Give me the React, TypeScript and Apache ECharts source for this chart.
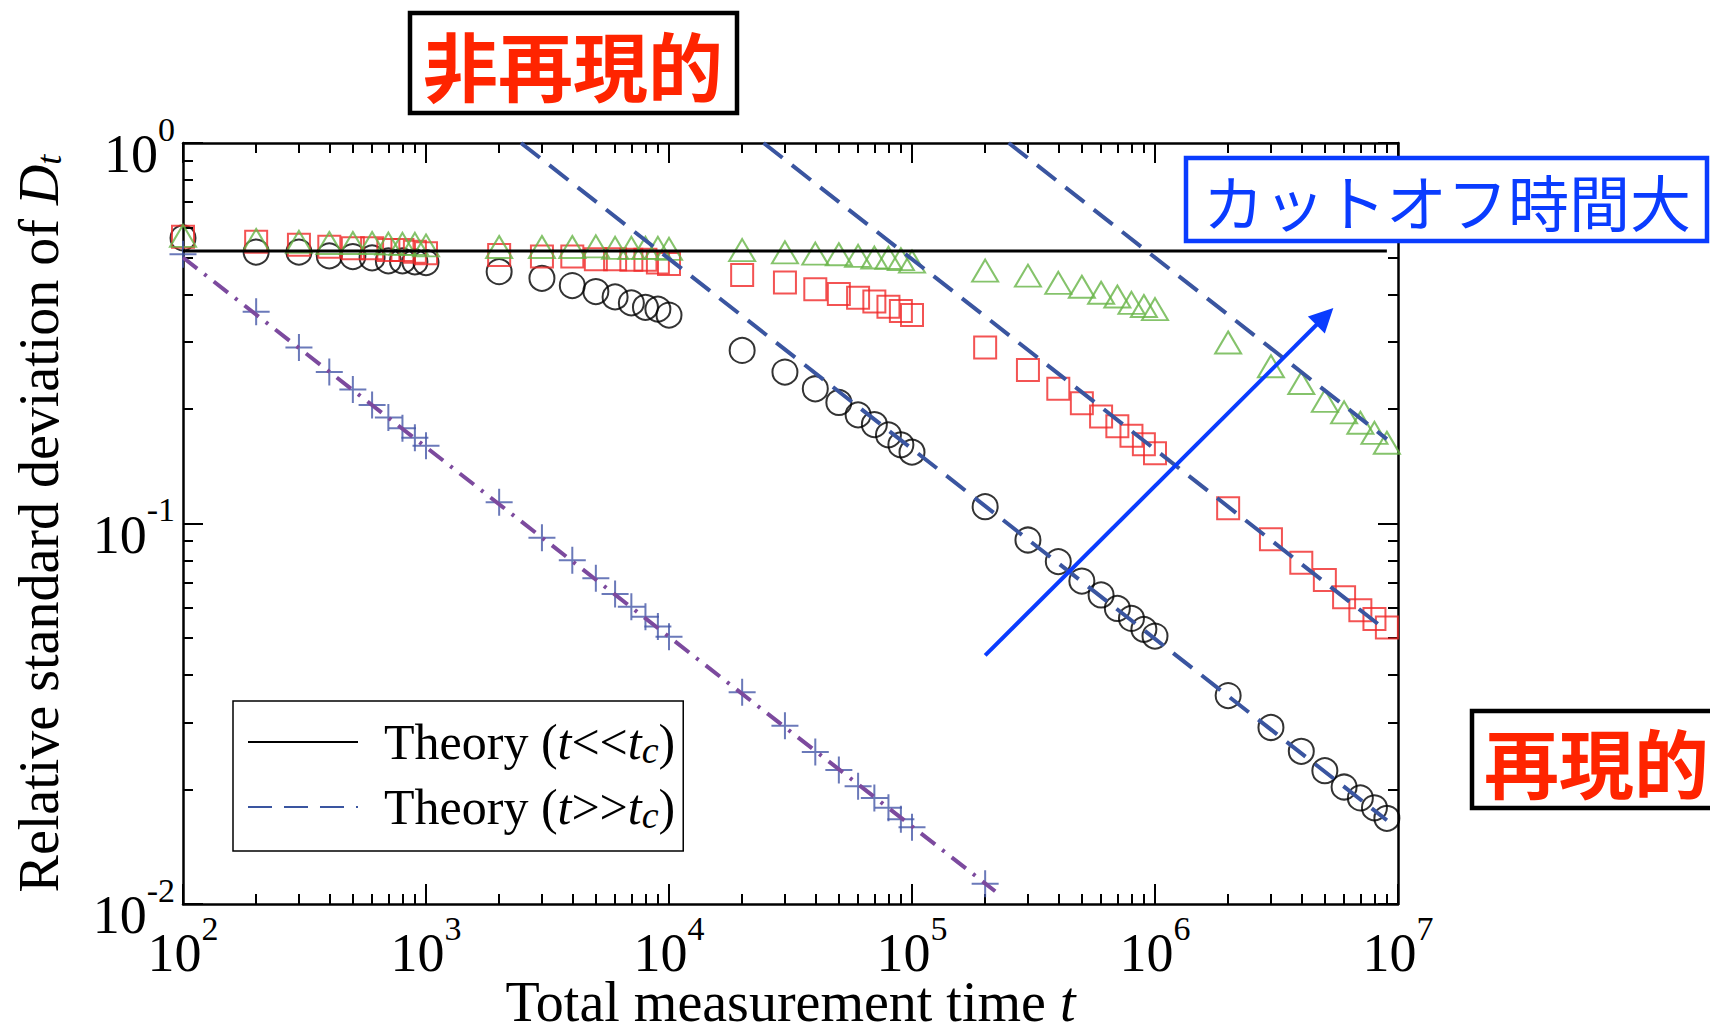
import React, { useEffect, useRef } from "react";
import * as echarts from "echarts";

// ---------- data ----------
const TIMES = [
  100, 200, 300, 400, 500, 600, 700, 800, 900,
  1e3, 2e3, 3e3, 4e3, 5e3, 6e3, 7e3, 8e3, 9e3,
  1e4, 2e4, 3e4, 4e4, 5e4, 6e4, 7e4, 8e4, 9e4,
  1e5, 2e5, 3e5, 4e5, 5e5, 6e5, 7e5, 8e5, 9e5,
  1e6, 2e6, 3e6, 4e6, 5e6, 6e6, 7e6, 8e6, 9e6,
];

const circleD = [
  0.563, 0.517, 0.517, 0.505, 0.503, 0.499, 0.49, 0.49, 0.487,
  0.485, 0.459, 0.441, 0.422, 0.407, 0.394, 0.38, 0.37, 0.366,
  0.353, 0.285, 0.25, 0.226, 0.208, 0.193, 0.182, 0.171, 0.161,
  0.154, 0.1107, 0.0905, 0.0794, 0.0706, 0.0649, 0.0598, 0.0563, 0.0527,
  0.0506, 0.0353, 0.0291, 0.0252, 0.0224, 0.0203, 0.019, 0.0179, 0.0168,
];

const squareD = [
  0.567, 0.55, 0.54, 0.534, 0.529, 0.529, 0.523, 0.523, 0.518,
  0.513, 0.508, 0.503, 0.503, 0.495, 0.495, 0.493, 0.493, 0.485,
  0.481, 0.45, 0.43, 0.413, 0.401, 0.392, 0.383, 0.371, 0.362,
  0.353, 0.29, 0.253, 0.226, 0.207, 0.191, 0.18, 0.17, 0.1615,
  0.153, 0.1096, 0.0909, 0.0789, 0.071, 0.064, 0.0592, 0.0561, 0.0533,
];

const triangleD = [
  0.57, 0.556, 0.55, 0.546, 0.546, 0.546, 0.544, 0.543, 0.543,
  0.538, 0.533, 0.533, 0.533, 0.535, 0.53, 0.53, 0.53, 0.53,
  0.527, 0.523, 0.516, 0.512, 0.51, 0.505, 0.5, 0.499, 0.495,
  0.488, 0.462, 0.448, 0.429, 0.419, 0.404, 0.395, 0.38, 0.373,
  0.366, 0.299, 0.259, 0.234, 0.21, 0.196, 0.184, 0.173, 0.163,
];

const PLUS_TIMES = [
  100, 200, 300, 400, 500, 600, 700, 800, 900,
  1e3, 2e3, 3e3, 4e3, 5e3, 6e3, 7e3, 8e3, 9e3,
  1e4, 2e4, 3e4, 4e4, 5e4, 6e4, 7e4, 8e4, 9e4,
  1e5, 2e5,
];
const plusD = [
  0.51, 0.36, 0.29, 0.25, 0.225, 0.205, 0.19, 0.178, 0.168,
  0.16, 0.1137, 0.0918, 0.08, 0.0718, 0.0653, 0.0604, 0.0569, 0.0536,
  0.0504, 0.036, 0.0294, 0.0251, 0.0225, 0.0204, 0.019, 0.0179, 0.0167,
  0.0159, 0.0113,
];

// theory lines (end points)
const shortT = [100, 9e6];
const shortD = [0.52, 0.52];
const long1T = [2460, 9e6];
const long1D = [1, 0.0166];
const long2T = [24500, 9e6];
const long2D = [1, 0.0522];
const long3T = [250000, 9e6];
const long3D = [1, 0.1667];
const dashDotT = [100, 2.2e5];
const dashDotD = [0.5, 0.0108];
const arrowT = [2e5, 5e6];
const arrowD = [0.045, 0.35];

// axes
const X_MAJOR = [1e2, 1e3, 1e4, 1e5, 1e6, 1e7];
const Y_MAJOR = [0.01, 0.1, 1];
const X_MINOR: number[] = [];
for (let k = 2; k <= 6; k++) for (let m = 2; m <= 9; m++) X_MINOR.push(+(m * Math.pow(10, k)).toPrecision(3));
const Y_MINOR: number[] = [];
for (let k = -2; k <= -1; k++) for (let m = 2; m <= 9; m++) Y_MINOR.push(+(m * Math.pow(10, k)).toPrecision(3));

const NAME_SHORT = "Theory (t<<tc)";
const NAME_LONG = "Theory (t>>tc)";

const zip = (ts: number[], ds: number[]) => ts.map((t, i) => [t, ds[i]]);

const serif = "'Liberation Serif', 'Times New Roman', serif";
const cjk = "'Noto Sans CJK JP', 'Noto Sans CJK SC', sans-serif";

export default function App() {
  const ref = useRef<HTMLDivElement>(null);

  useEffect(() => {
    document.body.style.margin = "0";
    document.body.style.overflow = "hidden";
    if (!ref.current) return;
    const chart = echarts.init(ref.current, undefined, { renderer: "svg" });

    const grid = { left: 183, top: 143, width: 1215, height: 761, containLabel: false, outerBoundsMode: "none" };
    const axisLine = { show: true, lineStyle: { color: "#000", width: 2.5 } };
    const majorTick = { show: true, inside: true, length: 20, lineStyle: { color: "#000", width: 2 } };
    const labelRich = {
      b: { fontFamily: serif, fontSize: 54, lineHeight: 54, color: "#000", verticalAlign: "middle" },
      sup: { fontFamily: serif, fontSize: 34, lineHeight: 34, color: "#000", padding: [0, 0, 50, 0], verticalAlign: "middle" },
    };
    const expLabel = (v: number) => `{b|10}{sup|${Math.round(Math.log10(v))}}`;
    const nameRich = {
      n: { fontFamily: serif, fontSize: 56, lineHeight: 56, color: "#000", verticalAlign: "middle" },
      i: { fontFamily: serif, fontSize: 56, lineHeight: 56, color: "#000", fontStyle: "italic", verticalAlign: "middle" },
      s: { fontFamily: serif, fontSize: 36, lineHeight: 36, color: "#000", fontStyle: "italic", padding: [20, 0, 0, 0], verticalAlign: "middle" },
    };
    const xNameRich = {
      n: { fontFamily: serif, fontSize: 56, lineHeight: 40, color: "#000", verticalAlign: "middle" },
      i: { fontFamily: serif, fontSize: 56, lineHeight: 40, color: "#000", fontStyle: "italic", verticalAlign: "middle" },
    };

    const xBase = { type: "log", logBase: 10, min: 1e2, max: 1e7, splitLine: { show: false } };
    const yBase = { type: "log", logBase: 10, min: 0.01, max: 1, splitLine: { show: false } };
    const minorTick = (vals: number[]) => ({
      show: true, inside: true, length: 10, customValues: vals, lineStyle: { color: "#000", width: 2 },
    });

    const option: any = {
      animation: false,
      backgroundColor: "#fff",
      grid: [{ ...grid }, { ...grid }],
      xAxis: [
        {
          ...xBase, gridIndex: 0, position: "bottom", axisLine, axisTick: majorTick,
          axisLabel: { show: true, margin: 22, formatter: expLabel, rich: labelRich, customValues: X_MAJOR },
          name: "{n|Total measurement time }{i|t}", nameLocation: "middle", nameGap: 78, nameMoveOverlap: false,
          nameTextStyle: { rich: xNameRich },
        },
        { ...xBase, gridIndex: 0, position: "top", axisLine, axisTick: majorTick, axisLabel: { show: false } },
        { ...xBase, gridIndex: 1, position: "bottom", axisLine: { show: false }, axisTick: minorTick(X_MINOR), axisLabel: { show: false } },
        { ...xBase, gridIndex: 1, position: "top", axisLine: { show: false }, axisTick: minorTick(X_MINOR), axisLabel: { show: false } },
      ],
      yAxis: [
        {
          ...yBase, gridIndex: 0, position: "left", axisLine, axisTick: majorTick,
          axisLabel: { show: true, margin: 8, padding: [22, 0, 0, 0], formatter: expLabel, rich: labelRich, customValues: Y_MAJOR },
          name: "{n|Relative standard deviation of }{i|D}{s|t}", nameLocation: "middle", nameGap: 116, nameRotate: 90,
          nameMoveOverlap: false,
          nameTextStyle: { rich: nameRich },
        },
        { ...yBase, gridIndex: 0, position: "right", axisLine, axisTick: majorTick, axisLabel: { show: false } },
        { ...yBase, gridIndex: 1, position: "left", axisLine: { show: false }, axisTick: minorTick(Y_MINOR), axisLabel: { show: false } },
        { ...yBase, gridIndex: 1, position: "right", axisLine: { show: false }, axisTick: minorTick(Y_MINOR), axisLabel: { show: false } },
      ],
      legend: {
        data: [NAME_SHORT, NAME_LONG],
        orient: "vertical",
        left: 233,
        top: 701,
        padding: [14, 8, 17, 14],
        itemGap: 11,
        itemWidth: 110,
        itemHeight: 20,
        borderColor: "#000",
        borderWidth: 1.5,
        backgroundColor: "#fff",
        selectedMode: false,
        itemStyle: { opacity: 0 },
        formatter: (name: string) =>
          name === NAME_SHORT
            ? "{g| }{n|Theory (}{i|t}{n|<<}{i|t}{s|c}{n|)}"
            : "{g| }{n|Theory (}{i|t}{n|>>}{i|t}{s|c}{n|)}",
        textStyle: {
          rich: {
            g: { width: 21, fontSize: 10 },
            n: { fontFamily: serif, fontSize: 50, lineHeight: 54, color: "#000", verticalAlign: "middle" },
            i: { fontFamily: serif, fontSize: 50, lineHeight: 54, color: "#000", fontStyle: "italic", verticalAlign: "middle" },
            s: { fontFamily: serif, fontSize: 38, lineHeight: 38, color: "#000", fontStyle: "italic", padding: [16, 0, 0, 0], verticalAlign: "middle" },
          },
        },
      },
      series: [
        {
          name: "circles", type: "scatter", xAxisIndex: 0, yAxisIndex: 0,
          data: zip(TIMES, circleD), symbol: "circle", symbolSize: 25,
          itemStyle: { color: "rgba(0,0,0,0)", borderColor: "#000", borderWidth: 2 },
        },
        {
          name: "squares", type: "scatter", xAxisIndex: 0, yAxisIndex: 0,
          data: zip(TIMES, squareD), symbol: "rect", symbolSize: 22,
          itemStyle: { color: "rgba(0,0,0,0)", borderColor: "#f02828", borderWidth: 2 },
        },
        {
          name: "triangles", type: "scatter", xAxisIndex: 0, yAxisIndex: 0,
          data: zip(TIMES, triangleD), symbol: "triangle", symbolSize: [26, 22],
          itemStyle: { color: "rgba(0,0,0,0)", borderColor: "#66b446", borderWidth: 2 },
        },
        {
          name: "pluses", type: "scatter", xAxisIndex: 0, yAxisIndex: 0,
          data: zip(PLUS_TIMES, plusD), symbol: "path://M0,10L20,10M10,0L10,20", symbolSize: 27,
          itemStyle: { color: "rgba(0,0,0,0)", borderColor: "#4558a8", borderWidth: 2 },
        },
        {
          name: "dashdot", type: "line", xAxisIndex: 0, yAxisIndex: 0, data: zip(dashDotT, dashDotD),
          symbol: "none", showSymbol: false,
          lineStyle: { color: "#7c4a9e", width: 4, type: [18, 9, 3, 9] },
        },
        {
          name: NAME_LONG, type: "line", xAxisIndex: 0, yAxisIndex: 0, data: zip(long1T, long1D),
          symbol: "none", showSymbol: false, itemStyle: { color: "#3a55a0" },
          lineStyle: { color: "#3a55a0", width: 4, type: [24, 12] },
        },
        {
          name: "long2", type: "line", xAxisIndex: 0, yAxisIndex: 0, data: zip(long2T, long2D),
          symbol: "none", showSymbol: false,
          lineStyle: { color: "#3a55a0", width: 4, type: [24, 12] },
        },
        {
          name: "long3", type: "line", xAxisIndex: 0, yAxisIndex: 0, data: zip(long3T, long3D),
          symbol: "none", showSymbol: false,
          lineStyle: { color: "#3a55a0", width: 4, type: [24, 12] },
        },
        {
          name: NAME_SHORT, type: "line", xAxisIndex: 0, yAxisIndex: 0, data: zip(shortT, shortD),
          symbol: "none", showSymbol: false, itemStyle: { color: "#000" },
          lineStyle: { color: "#000", width: 3 },
        },
        {
          name: "arrow", type: "lines", coordinateSystem: "cartesian2d", xAxisIndex: 0, yAxisIndex: 0,
          polyline: false, symbol: ["none", "triangle"], symbolSize: [18, 24],
          lineStyle: { color: "#0a3cff", width: 4, opacity: 1, curveness: 0 },
          data: [{ coords: zip(arrowT, arrowD) }],
          z: 5,
        },
      ],
      graphic: [
        { type: "rect", z: 100, shape: { x: 410, y: 13, width: 327, height: 100 }, style: { fill: "#fff", stroke: "#000", lineWidth: 4.5 } },
        { type: "text", z: 101, x: 573, y: 63, style: { text: "非再現的", font: `bold 75px ${cjk}`, fill: "#ff2400", align: "center", verticalAlign: "middle", textAlign: "center", textVerticalAlign: "middle" } },
        { type: "rect", z: 100, shape: { x: 1186, y: 158, width: 521, height: 83 }, style: { fill: "#fff", stroke: "#0a3cff", lineWidth: 4.5 } },
        { type: "text", z: 101, x: 1447, y: 200, style: { text: "カットオフ時間大", font: `61px ${cjk}`, fill: "#0a3cff", align: "center", verticalAlign: "middle", textAlign: "center", textVerticalAlign: "middle" } },
        { type: "rect", z: 100, shape: { x: 1472, y: 711, width: 260, height: 97 }, style: { fill: "#fff", stroke: "#000", lineWidth: 4.5 } },
        { type: "text", z: 101, x: 1484, y: 760, style: { text: "再現的", font: `bold 75px ${cjk}`, fill: "#ff2400", align: "left", verticalAlign: "middle", textAlign: "left", textVerticalAlign: "middle" } },
      ],
    };

    chart.setOption(option);
    return () => chart.dispose();
  }, []);

  return <div ref={ref} style={{ width: 1710, height: 1027 }} />;
}
